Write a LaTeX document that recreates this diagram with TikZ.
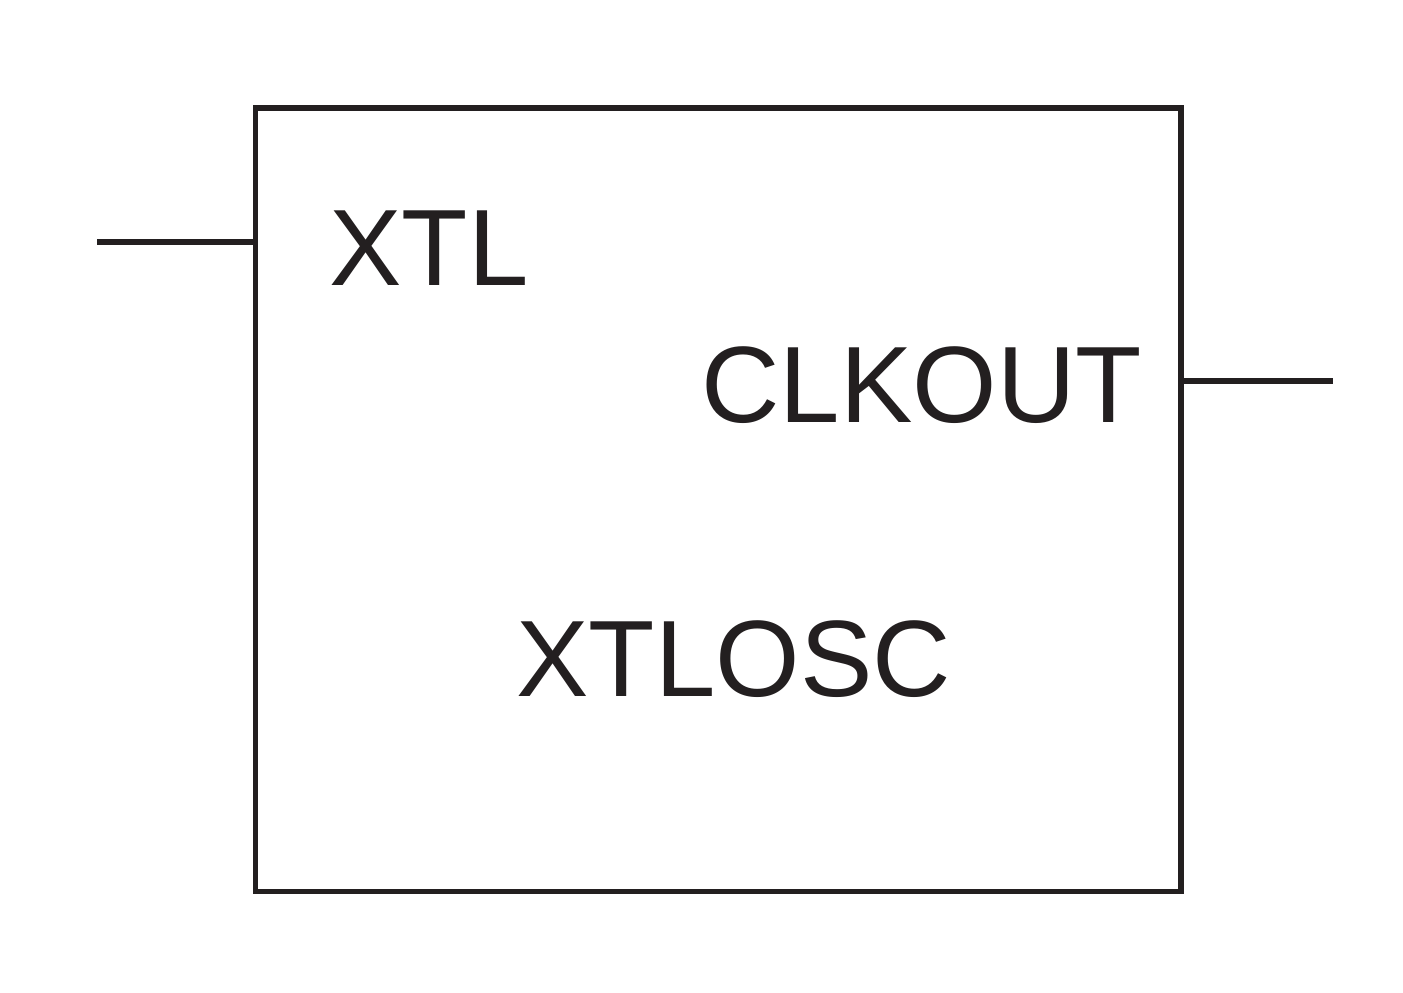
\documentclass[tikz,border=0pt]{standalone}
\usepackage{fontspec}
\setmainfont{Liberation Sans}
\begin{document}
\begin{tikzpicture}[line width=1.7pt, color={rgb,255:red,35;green,31;blue,32},
  pinlabel/.style={anchor=base west, inner sep=0pt, font=\fontsize{30.9}{36}\selectfont}]
\useasboundingbox (0,0) rectangle (14.03,9.92);
\node [draw, minimum width=9.255cm, minimum height=7.835cm, inner sep=0pt] (osc) at (7.1825,4.9225) {};
\coordinate (xtlin) at (0.97,7.50);
\coordinate (clkout) at (13.33,6.11);
\draw (xtlin) -- (osc.west |- xtlin);
\draw (osc.east |- clkout) -- (clkout);
\node [pinlabel] (xtl) at (3.265,7.07) {XTL};
\node [pinlabel] (clk) at (6.985,5.70) {CLKOUT};
\node [pinlabel] (name) at (5.135,2.96) {XTLOSC};
\end{tikzpicture}
\end{document}
